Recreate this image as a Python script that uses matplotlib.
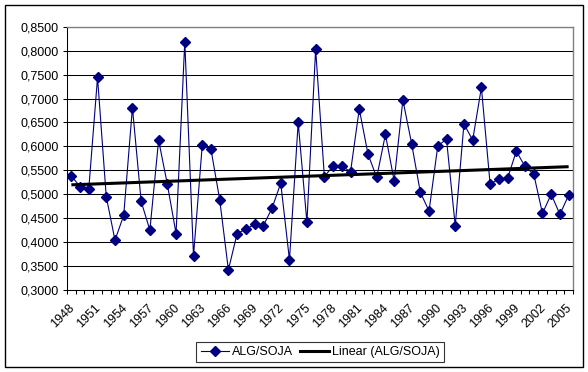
import numpy as np
import matplotlib
matplotlib.use("Agg")
import matplotlib.pyplot as plt
from matplotlib.patches import Rectangle
from matplotlib.lines import Line2D

plt.rcParams['font.family'] = ['Liberation Sans', 'DejaVu Sans']

years = list(range(1948, 2006))
values = [0.538, 0.516, 0.512, 0.744, 0.495, 0.404, 0.456, 0.681, 0.485, 0.425,
          0.613, 0.521, 0.418, 0.819, 0.371, 0.602, 0.594, 0.489, 0.342, 0.418,
          0.427, 0.437, 0.434, 0.471, 0.523, 0.363, 0.650, 0.441, 0.803, 0.537,
          0.559, 0.559, 0.547, 0.678, 0.584, 0.535, 0.625, 0.528, 0.697, 0.606,
          0.504, 0.465, 0.601, 0.615, 0.434, 0.647, 0.613, 0.723, 0.521, 0.532,
          0.533, 0.590, 0.558, 0.542, 0.460, 0.500, 0.458, 0.498]
series_label = "ALG/SOJA"
trend_label = "Linear (ALG/SOJA)"
yticks = [0.30, 0.35, 0.40, 0.45, 0.50, 0.55, 0.60, 0.65, 0.70, 0.75, 0.80, 0.85]

W, H = 588, 372
fig = plt.figure(figsize=(W / 100, H / 100), dpi=100)
fig.patch.set_facecolor('white')

# outer chart border
fig.patches.append(Rectangle((5 / W, (H - 367) / H), 578 / W, 362 / H,
                             transform=fig.transFigure, fill=False,
                             edgecolor='black', linewidth=1.0))

L, R, T, B = 67, 573, 26.7, 290
ax = fig.add_axes([L / W, (H - B) / H, (R - L) / W, (B - T) / H])

x = np.arange(len(years))
ax.plot(x, values, color='#000080', linewidth=0.8, marker='D', markersize=4.8,
        markerfacecolor='#000080', markeredgecolor='#000080', zorder=3)

coef = np.polyfit(x, values, 1)
ax.plot([x[0], x[-1]], np.polyval(coef, [x[0], x[-1]]), color='black',
        linewidth=2.2, zorder=4, solid_capstyle='butt')

ax.set_xlim(-0.5, len(years) - 0.5)
ax.set_ylim(0.30, 0.85)
ax.set_yticks(yticks)
ax.set_yticklabels([f"{v:.4f}".replace('.', ',') for v in yticks], fontsize=9)
ax.yaxis.grid(True, color='black', linewidth=0.75)
ax.set_axisbelow(True)

ax.set_xticks(np.arange(-0.5, len(years), 1.0), minor=False)
ax.set_xticklabels([])
ax.tick_params(axis='x', direction='out', length=3, width=0.75)
ax.tick_params(axis='y', direction='out', length=3, width=0.75, pad=3)

for i in range(0, len(years), 3):
    ax.annotate(str(years[i]), xy=(i, 0.30), xycoords='data',
                xytext=(-2, -8.5), textcoords='offset points',
                rotation=45, ha='right', va='top', rotation_mode='anchor',
                fontsize=9)

for s in ['left', 'bottom']:
    ax.spines[s].set_color('black')
    ax.spines[s].set_linewidth(0.75)
for s in ['top', 'right']:
    ax.spines[s].set_color('#808080')
    ax.spines[s].set_linewidth(1.0)

handles = [Line2D([], [], color='#000080', linewidth=0.8, marker='D', markersize=4.8),
           Line2D([], [], color='black', linewidth=2.2)]
leg = fig.legend(handles, [series_label, trend_label], ncol=2,
                 loc='center', bbox_to_anchor=(320 / W, (H - 352) / H),
                 frameon=True, fancybox=False, fontsize=9, handlelength=2.3,
                 handletextpad=0.25, columnspacing=0.5, borderpad=0.35,
                 borderaxespad=0)
leg.get_frame().set_edgecolor('black')
leg.get_frame().set_linewidth(0.8)

fig.savefig('out.png', dpi=100)
